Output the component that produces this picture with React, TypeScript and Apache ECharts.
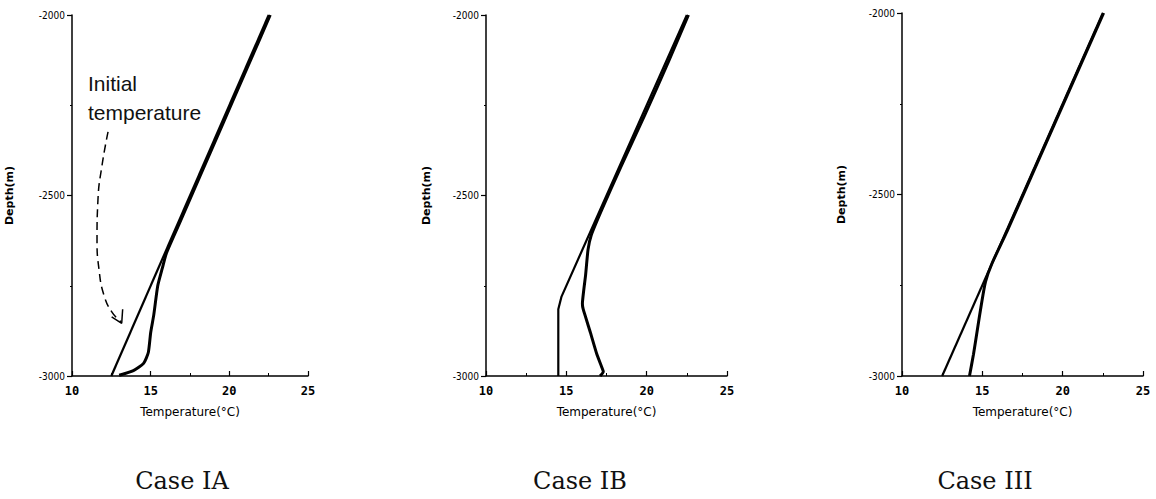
import React, { useEffect, useRef } from "react";
import * as echarts from "echarts";

// ---- Data (temperature °C, depth m) ----
const caseTitles = ["Case IA", "Case IB", "Case III"];

const initialIA: number[][] = [[22.5, -2000], [12.5, -3000]];
const finalIA: number[][] = [
  [22.6, -2000], [21.1, -2150], [19.6, -2300], [18.1, -2450], [16.8, -2580],
  [16.0, -2660], [15.75, -2700], [15.45, -2750], [15.2, -2830], [15.0, -2880],
  [14.85, -2935], [14.55, -2965], [13.9, -2985], [13.0, -2998],
];

const initialIB: number[][] = [[22.5, -2000], [14.7, -2780], [14.5, -2815], [14.5, -3000]];
const finalIB: number[][] = [
  [22.6, -2000], [21.35, -2130], [19.85, -2280], [18.4, -2420], [17.2, -2540],
  [16.55, -2610], [16.35, -2650], [16.2, -2720], [16.0, -2800], [16.05, -2815],
  [16.5, -2880], [16.9, -2940], [17.2, -2975], [17.3, -2988], [17.1, -3000],
];

const initialIII: number[][] = [[22.5, -2000], [12.5, -3000]];
const finalIII: number[][] = [
  [22.55, -2000], [21.05, -2150], [19.55, -2300], [18.05, -2450], [16.55, -2600],
  [15.6, -2690], [15.2, -2740], [14.95, -2800], [14.7, -2870], [14.45, -2940],
  [14.2, -3000],
];

// annotation arrow in Case IA (data coordinates)
const arrowPath: number[][] = [
  [12.29, -2324], [11.91, -2416], [11.65, -2512], [11.59, -2623],
  [11.72, -2706], [12.03, -2776], [12.54, -2823], [13.12, -2850],
];
const arrowHead: number[][] = [[12.52, -2836], [13.16, -2854], [13.22, -2815]];

const xTicks = { min: 10, max: 25, interval: 5 };
const yTicks = { min: -3000, max: -2000, interval: 500 };

const grids = [
  { left: 72, width: 236, top: 15, height: 361 },
  { left: 486, width: 241, top: 15, height: 361 },
  { left: 902, width: 241, top: 13, height: 363 },
];
const yNameGaps = [57, 54, 55];
const titleX = [182, 580, 985];

export default function App() {
  const ref = useRef<HTMLDivElement>(null);
  useEffect(() => {
    if (!ref.current) return;
    const chart = echarts.init(ref.current, null, { renderer: "svg" });
    const black = "#000";
    const xAxis = grids.map((_, i) => ({
      type: "value",
      gridIndex: i,
      min: xTicks.min,
      max: xTicks.max,
      interval: xTicks.interval,
      name: "Temperature(°C)",
      nameLocation: "middle",
      nameGap: 30,
      nameTextStyle: { color: black, fontSize: 12, fontFamily: "DejaVu Sans" },
      axisLine: { onZero: false, lineStyle: { color: black, width: 1.5 } },
      axisTick: { inside: true, length: 5, lineStyle: { color: black, width: 1.2 } },
      minorTick: { show: true, splitNumber: 2, length: 3, lineStyle: { color: black, width: 1 } },
      axisLabel: {
        color: black, fontSize: 12, fontWeight: "bold", margin: 9,
        fontFamily: "DejaVu Sans Mono",
      },
      splitLine: { show: false },
    }));
    const yAxis = grids.map((_, i) => ({
      type: "value",
      gridIndex: i,
      min: yTicks.min,
      max: yTicks.max,
      interval: yTicks.interval,
      name: "Depth(m)",
      nameLocation: "middle",
      nameGap: yNameGaps[i],
      nameTextStyle: { color: black, fontSize: 11, fontWeight: "bold", fontFamily: "DejaVu Sans" },
      axisLine: { onZero: false, lineStyle: { color: black, width: 1.5 } },
      axisTick: { inside: false, length: 5, lineStyle: { color: black, width: 1.2 } },
      minorTick: { show: true, splitNumber: 2, length: 2, lineStyle: { color: black, width: 1 } },
      axisLabel: {
        color: black, fontSize: 10, margin: 7,
        fontFamily: "DejaVu Sans Condensed, DejaVu Sans",
        formatter: (v: number) => String(v),
      },
      splitLine: { show: false },
    }));
    const line = (data: number[][], i: number, width: number, extra: any = {}) => ({
      type: "line",
      xAxisIndex: i,
      yAxisIndex: i,
      data,
      symbol: "none",
      lineStyle: { color: black, width, ...(extra.lineStyle || {}) },
      smooth: extra.smooth ?? false,
      silent: true,
      z: extra.z ?? 3,
    });
    const series = [
      line(initialIA, 0, 2.2),
      line(finalIA, 0, 3, { smooth: 0.2 }),
      line(initialIB, 1, 2.2),
      line(finalIB, 1, 3, { smooth: 0.15 }),
      line(initialIII, 2, 2.2),
      line(finalIII, 2, 3, { smooth: 0.2 }),
      line(arrowPath, 0, 1.5, { smooth: 0.5, lineStyle: { type: [8, 5] } }),
      line(arrowHead, 0, 1.5),
    ];
    chart.setOption({
      animation: false,
      backgroundColor: "#fff",
      grid: grids,
      xAxis,
      yAxis,
      series,
      graphic: [
        ...caseTitles.map((t, i) => ({
          type: "text",
          x: titleX[i],
          y: 481,
          style: {
            text: t,
            fill: "#111",
            font: "24px 'DejaVu Serif'",
            textAlign: "center",
            textVerticalAlign: "middle",
          },
        })),
        {
          type: "text",
          x: 88,
          y: 69,
          style: {
            text: "Initial\ntemperature",
            fill: "#111",
            font: "21px 'Liberation Sans'",
            lineHeight: 29,
            textAlign: "left",
            textVerticalAlign: "top",
          },
        },
      ],
    });
    return () => chart.dispose();
  }, []);
  return (
    <div
      ref={ref}
      style={{ position: "fixed", left: 0, top: 0, width: 1156, height: 499, background: "#fff" }}
    />
  );
}
